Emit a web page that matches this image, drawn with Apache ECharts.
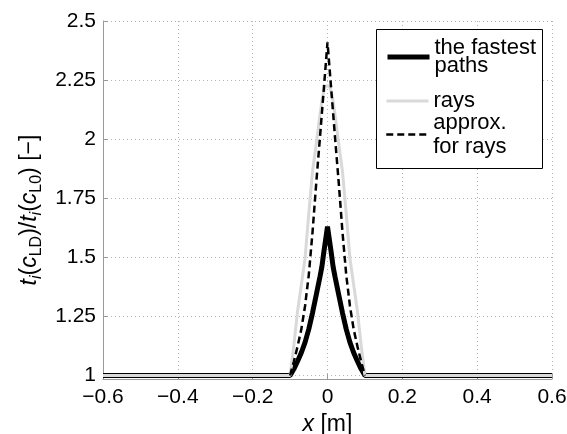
<!DOCTYPE html>
<html>
<head>
<meta charset="utf-8">
<script src="https://cdn.jsdelivr.net/npm/echarts@6/dist/echarts.min.js"></script>
<style>html,body{margin:0;padding:0;background:#fff;}#c{width:567px;height:434px;}</style>
</head>
<body>
<div id="c"></div>
<script>
// ---- data ----
const xValues = [-0.6, -0.1, -0.09, -0.08, -0.07, -0.06, -0.05, -0.04, -0.03, -0.02, -0.015, -0.01, -0.005, 0,
                 0.005, 0.01, 0.015, 0.02, 0.03, 0.04, 0.05, 0.06, 0.07, 0.08, 0.09, 0.1, 0.6];
const fastestPaths = [1, 1, 1.027, 1.06, 1.096, 1.14, 1.196, 1.265, 1.342, 1.419, 1.46, 1.52, 1.575, 1.63,
                      1.575, 1.52, 1.46, 1.419, 1.342, 1.265, 1.196, 1.14, 1.096, 1.06, 1.027, 1, 1];
const rays = [1, 1, 1.127, 1.272, 1.383, 1.495, 1.686, 1.864, 1.98, 2.105, 2.16, 2.2, 2.225, 2.23,
              2.225, 2.2, 2.16, 2.105, 1.98, 1.864, 1.686, 1.495, 1.383, 1.272, 1.127, 1, 1];
const approxRays = [null, 1, 1.058, 1.123, 1.195, 1.294, 1.426, 1.607, 1.816, 2.01, 2.11, 2.21, 2.31, 2.41,
                    2.31, 2.21, 2.11, 2.01, 1.816, 1.607, 1.426, 1.294, 1.195, 1.123, 1.058, 1, null];
const seriesNames = ['the fastest paths', 'rays', 'approx. for rays'];
const legendLabels = ['the fastest\npaths', 'rays', 'approx.\nfor rays'];
const xTicks = [-0.6, -0.4, -0.2, 0, 0.2, 0.4, 0.6];
const xTickLabels = ['\u22120.6', '\u22120.4', '\u22120.2', '0', '0.2', '0.4', '0.6'];
const yTicks = [1, 1.25, 1.5, 1.75, 2, 2.25, 2.5];
const yTickLabels = ['1', '1.25', '1.5', '1.75', '2', '2.25', '2.5'];

// ---- chart ----
const FONT = 'Liberation Sans, Arial, sans-serif';
const pairs = (ys) => xValues.map((x, i) => [x, ys[i]]);
const nearestLabel = (v, ticks, labels) => {
  let best = 0;
  for (let i = 1; i < ticks.length; i++) if (Math.abs(ticks[i] - v) < Math.abs(ticks[best] - v)) best = i;
  return Math.abs(ticks[best] - v) < 1e-6 ? labels[best] : '';
};
const chart = echarts.init(document.getElementById('c'), null, {renderer: 'canvas'});
const axisGray = '#9a9a9a';
const gridLine = {show: true, lineStyle: {color: '#b4b4b4', width: 1, type: [1, 3]}};
const rich = {
  it: {fontFamily: FONT, fontSize: 23, fontStyle: 'italic', lineHeight: 30, color: '#000'},
  n: {fontFamily: FONT, fontSize: 23, lineHeight: 30, color: '#000'},
  sub: {fontFamily: FONT, fontSize: 16, lineHeight: 15, verticalAlign: 'bottom', color: '#000'},
  isub: {fontFamily: FONT, fontSize: 16, lineHeight: 15, verticalAlign: 'bottom', fontStyle: 'italic', color: '#000'}
};
const legendBase = (idx, top, lh, lw, type, padBottom) => ({
  id: 'lg' + idx,
  data: [seriesNames[idx]],
  left: 385, top: top, orient: 'vertical', padding: 0,
  itemWidth: 42, itemHeight: 14, itemGap: 0, z: 10,
  selectedMode: false,
  formatter: () => legendLabels[idx],
  itemStyle: {opacity: 0},
  textStyle: {fontFamily: FONT, fontSize: 22, color: '#000', lineHeight: lh, padding: [0, 0, padBottom, 0]},
  lineStyle: {width: lw, type: type}
});
chart.setOption({
  animation: false,
  backgroundColor: '#fff',
  grid: {left: 103, right: 15, top: 21, bottom: 55, outerBoundsMode: 'none', containLabel: false},
  xAxis: {
    type: 'value', min: -0.6, max: 0.6, interval: 0.2,
    axisLine: {show: true, onZero: false, lineStyle: {color: axisGray, width: 1}},
    axisTick: {show: true, inside: true, length: 5, lineStyle: {color: axisGray}},
    axisLabel: {color: '#000', fontFamily: FONT, fontSize: 21, margin: 8,
      formatter: (v) => nearestLabel(v, xTicks, xTickLabels)},
    splitLine: gridLine,
    name: '{it|x}{n| [m]}', nameLocation: 'middle', nameGap: 31,
    nameTextStyle: {rich: rich}
  },
  yAxis: {
    type: 'value', min: 0.985, max: 2.5,
    axisLine: {show: true, onZero: false, lineStyle: {color: axisGray, width: 1}},
    axisTick: {show: true, inside: true, length: 5, lineStyle: {color: axisGray}, customValues: yTicks},
    axisLabel: {color: '#000', fontFamily: FONT, fontSize: 21, margin: 7, customValues: yTicks,
      formatter: (v) => nearestLabel(v, yTicks, yTickLabels)},
    splitLine: gridLine,
    name: '{it|t}{isub|i}{n|(}{it|c}{sub|LD}{n|)/}{it|t}{isub|i}{n|(}{it|c}{sub|L0}{n|) [\u2212]}',
    nameLocation: 'middle', nameGap: 56,
    nameTextStyle: {rich: rich, padding: [0, 20, 0, 0]}
  },
  legend: [
    legendBase(0, 34, 18, 5, 'solid', 10),
    legendBase(1, 90, 18.5, 3, 'solid', 0),
    legendBase(2, 105, 24, 2.5, [7, 4], 11)
  ],
  graphic: [{
    type: 'rect', left: 376, top: 29, z: 5,
    shape: {width: 166, height: 139},
    style: {fill: '#fff', stroke: '#000', lineWidth: 1}
  }],
  series: [
    {name: seriesNames[0], type: 'line', data: pairs(fastestPaths), symbol: 'none',
     lineStyle: {color: '#000', width: 5}, itemStyle: {color: '#000'}, z: 2},
    {name: seriesNames[1], type: 'line', data: pairs(rays), symbol: 'none',
     lineStyle: {color: '#d9d9d9', width: 3}, itemStyle: {color: '#d9d9d9'}, z: 3},
    {name: seriesNames[2], type: 'line', data: pairs(approxRays), symbol: 'none',
     lineStyle: {color: '#000', width: 2.5, type: [7, 4]}, itemStyle: {color: '#000'}, z: 4}
  ]
});
</script>
</body>
</html>
